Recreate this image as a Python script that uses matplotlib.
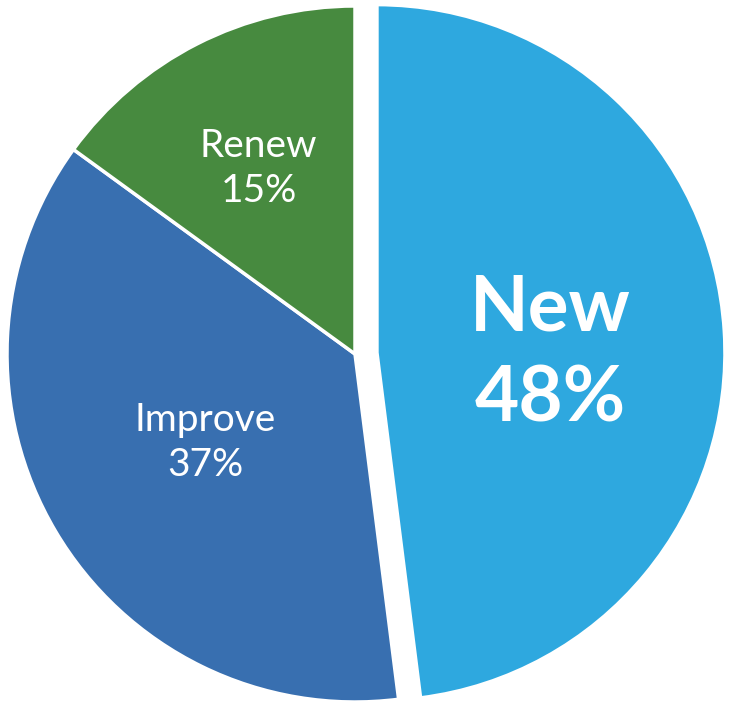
import numpy as np
from matplotlib import pyplot as plt

categories = ['New', 'Improve', 'Renew']
shares = [48, 37, 15]
colors = ['#2EA8DF', '#386FB0', '#478A3F']
explode = [22, 0, 0]  # data units (pixels)
label_dist = [0.50, 0.50, 0.61]  # fraction of radius for each label
label_drop = [0.035, 0.0, 0.01]  # extra downward nudge, fraction of radius
label_size = [55, 28, 28]
label_weight = ['bold', 'normal', 'normal']
label_gap = [0.26, 0.13, 0.13]  # line spacing, in units of radius

fig = plt.figure(figsize=(7.32, 7.07), dpi=100)
ax = fig.add_axes([0, 0, 1, 1])

R = 348
wedges, _ = ax.pie(shares, colors=colors, explode=explode, startangle=90,
                   counterclock=False, radius=R, center=(355, 353),
                   wedgeprops=dict(edgecolor='white', linewidth=2.5))

for w, name, val, d, dy, fs, fw, gap in zip(wedges, categories, shares, label_dist,
                                             label_drop, label_size, label_weight, label_gap):
    mid = np.deg2rad((w.theta1 + w.theta2) / 2)
    cx = w.center[0] + d * R * np.cos(mid)
    cy = w.center[1] + d * R * np.sin(mid) - dy * R
    ax.text(cx, cy + gap * R / 2, name, ha='center', va='center', color='white',
            fontsize=fs, fontweight=fw, family='Lato')
    ax.text(cx, cy - gap * R / 2, f'{val}%', ha='center', va='center', color='white',
            fontsize=fs, fontweight=fw, family='Lato')

ax.set_xlim(0, 732)
ax.set_ylim(0, 707)
ax.set_aspect('equal')
ax.axis('off')

plt.savefig('out.png')
